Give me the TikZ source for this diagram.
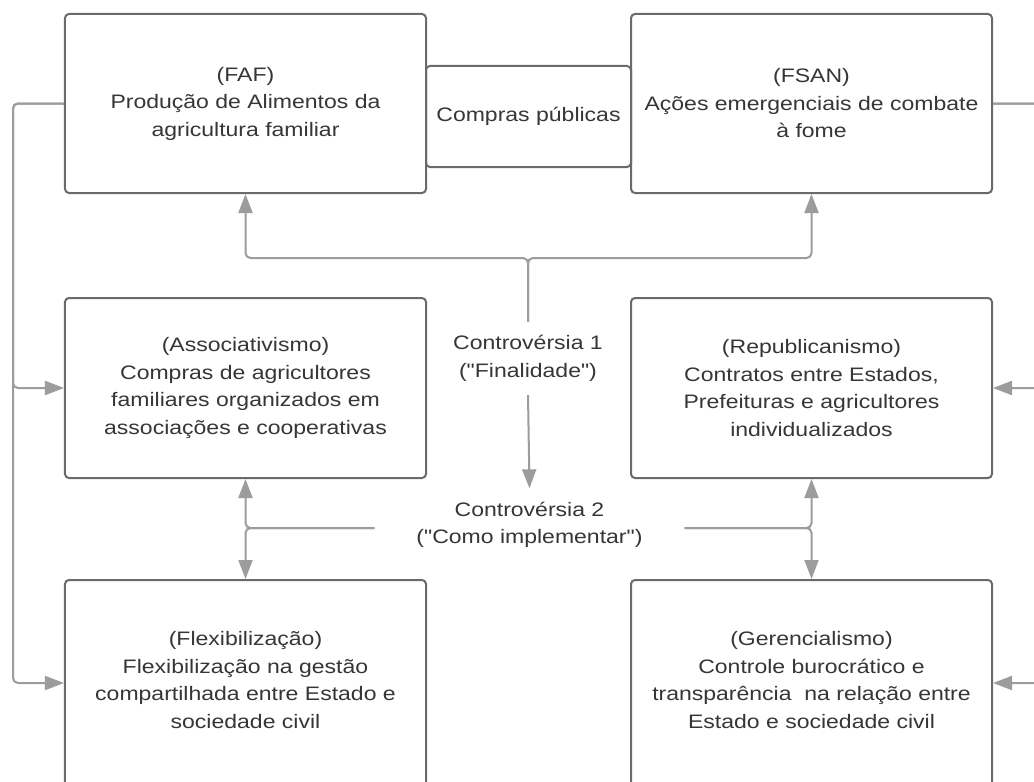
\documentclass[tikz,border=0pt]{standalone}
\usepackage{fontspec}
% family without the TeX ligature mapping, so " stays a straight quote
\newfontfamily\diagfont{Liberation Sans}[FakeStretch=1.18]
\usetikzlibrary{arrows.meta}
\definecolor{boxline}{HTML}{6A6A6A}
\definecolor{connline}{HTML}{9C9C9C}
\definecolor{textcol}{HTML}{363636}
\begin{document}
\begin{tikzpicture}[x=1bp,y=-1bp,
  every node/.style={font=\diagfont\fontsize{19.5bp}{27.5bp}\selectfont, text=textcol},
  panel/.style={draw=boxline, line width=2bp, rounded corners=4bp,
    minimum width=361bp, minimum height=179bp, align=center, inner sep=0pt},
  tall/.style={panel, minimum height=220bp},
  tag/.style={align=center, inner xsep=42bp, inner ysep=13.5bp},
  conn/.style={draw=connline, line width=2bp, rounded corners=5bp,
    -{Triangle[length=19bp,width=14bp]}}
]
\useasboundingbox (0,0) rectangle (1034,782);
\fill[white] (0,0) rectangle (1034,782);
\clip (0,0) rectangle (1034,782);

% upper row
\node[panel, minimum width=205bp, minimum height=101bp] (compras) at (528.5,116.5) {Compras públicas};
\node[panel] (faf) at (245.5,103.5) {(FAF)\\Produção de Alimentos da\\agricultura familiar};
\node[panel] (fsan) at (811.5,103.5) {(FSAN)\\Ações emergenciais de combate\\à fome};

% middle row
\node[panel, minimum height=180bp] (assoc) at (245.5,388)
  {(Associativismo)\\Compras de agricultores\\familiares organizados em\\associações e cooperativas};
\node[panel, minimum height=180bp] (repub) at (811.5,388)
  {(Republicanismo)\\Contratos entre Estados,\\Prefeituras e agricultores\\individualizados};

% lower row (runs past the lower edge)
\node[tall] (flex) at (245.5,690) {};
\node[align=center] (flext) at (245.5,680)
  {(Flexibilização)\\Flexibilização na gestão\\compartilhada entre Estado e\\sociedade civil};
\node[tall] (geren) at (811.5,690) {};
\node[align=center] (gerent) at (811.5,680)
  {(Gerencialismo)\\Controle burocrático e\\transparência\ \ na relação entre\\Estado e sociedade civil};

% controversies
\node[tag] (c1) at (528,358.5) {Controvérsia 1\\("Finalidade")};
\node[tag] (c2) at (529.5,525) {Controvérsia 2\\("Como implementar")};

% bus coordinates
\coordinate (tb) at (528,258);
\coordinate (lb) at (13,683);
\coordinate (rb) at (1048,683);

% controversy 1 -> both ends
\draw[conn] (c1.north) -- (tb) -| (faf.south);
\draw[conn] (c1.north) -- (tb) -| (fsan.south);
\draw[conn] (c1.south) -- (c2.north);

% controversy 2 -> the four positions
\draw[conn] ([yshift=-3bp]c2.west) -| (assoc.south);
\draw[conn] ([yshift=-3bp]c2.west) -| (flex.north);
\draw[conn] ([yshift=-3bp]c2.east) -| (repub.south);
\draw[conn] ([yshift=-3bp]c2.east) -| (geren.north);

% side buses
\draw[conn] (faf.west) -| (lb |- assoc.west) -- (assoc.west);
\draw[conn] (faf.west) -| (lb) -- (lb -| flex.west);
\draw[conn] (fsan.east) -| (rb |- repub.east) -- (repub.east);
\draw[conn] (fsan.east) -| (rb) -- (rb -| geren.east);
\end{tikzpicture}
\end{document}
